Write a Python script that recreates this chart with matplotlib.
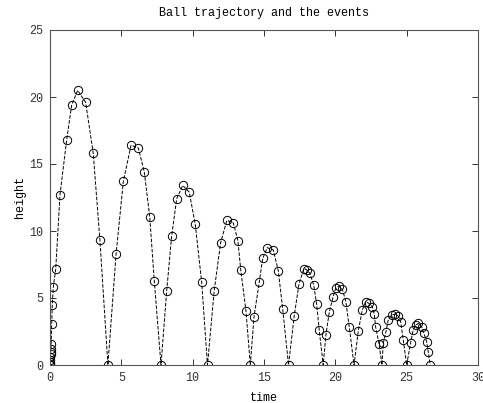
import matplotlib
matplotlib.use("Agg")
import matplotlib.pyplot as plt

# solver output: time and height of the ball
t_start = [0, 0.005, 0.01, 0.02, 0.03, 0.04, 0.05, 0.06, 0.08]
h_start = [0, 0.1, 0.2, 0.4, 0.6, 0.8, 1.0, 1.2, 1.6]

t_arc = [
    [0.12, 0.16, 0.23, 0.40, 0.70, 1.17, 1.52, 1.94, 2.50, 3.03, 3.50, 4.06],
    [4.63, 5.14, 5.68, 6.19, 6.61, 6.99, 7.31, 7.78],
    [8.18, 8.53, 8.88, 9.30, 9.76, 10.18, 10.63, 11.04],
    [11.51, 11.96, 12.40, 12.85, 13.17, 13.37, 13.74, 14.04],
    [14.30, 14.67, 14.91, 15.23, 15.65, 16.00, 16.31, 16.72],
    [17.12, 17.45, 17.80, 18.00, 18.22, 18.48, 18.69, 18.87, 19.15],
    [19.34, 19.58, 19.85, 20.02, 20.25, 20.49, 20.74, 20.98, 21.31],
    [21.61, 21.89, 22.12, 22.35, 22.59, 22.73, 22.82, 23.06, 23.27],
    [23.36, 23.55, 23.71, 23.94, 24.18, 24.41, 24.58, 24.76, 25.00],
    [25.28, 25.46, 25.63, 25.81, 26.05, 26.21, 26.40, 26.51, 26.65],
]
h_arc = [
    [3.06, 4.5, 5.8, 7.15, 12.7, 16.8, 19.4, 20.5, 19.6, 15.8, 9.3, 0],
    [8.26, 13.7, 16.4, 16.2, 14.4, 11.07, 6.27, 0],
    [5.55, 9.65, 12.4, 13.4, 12.9, 10.5, 6.2, 0],
    [5.55, 9.13, 10.8, 10.6, 9.28, 7.1, 4.0, 0],
    [3.6, 6.2, 7.96, 8.76, 8.58, 7.04, 4.18, 0],
    [3.68, 6.04, 7.2, 7.1, 6.84, 5.97, 4.55, 2.6, 0],
    [2.24, 3.98, 5.1, 5.72, 5.9, 5.65, 4.73, 2.81, 0],
    [2.56, 4.1, 4.73, 4.6, 4.35, 3.78, 2.86, 1.6, 0],
    [1.62, 2.49, 3.36, 3.73, 3.8, 3.66, 3.23, 1.87, 0],
    [1.67, 2.61, 2.98, 3.1, 2.86, 2.36, 1.74, 1.0, 0],
]

xticks = [0, 5, 10, 15, 20, 25, 30]
yticks = [0, 5, 10, 15, 20, 25]

t = list(t_start)
h = list(h_start)
for ta, ha in zip(t_arc, h_arc):
    t += ta
    h += ha

plt.rcParams["font.family"] = ["Liberation Mono", "DejaVu Sans Mono"]
plt.rcParams["font.size"] = 8.5

fig = plt.figure(figsize=(4.83, 4.03), dpi=100)
ax = fig.add_axes([50 / 483, 38 / 403, 428 / 483, 335 / 403])

ax.plot(t, h, linestyle="--", color="black", linewidth=0.7,
        marker="o", markersize=6, markerfacecolor="none",
        markeredgecolor="black", markeredgewidth=0.7)

ax.set_xlim(0, 30)
ax.set_ylim(0, 25)
ax.set_xticks(xticks)
ax.set_yticks(yticks)
ax.tick_params(direction="in", top=True, right=True, length=4,
               width=0.7, colors="#333333", pad=5)
for s in ax.spines.values():
    s.set_color("#555555")
    s.set_linewidth(0.8)

ax.set_title("Ball trajectory and the events", fontsize=8.5, pad=10)
ax.set_xlabel("time", labelpad=6)
ax.set_ylabel("height", labelpad=2)

fig.savefig("out.png", dpi=100)
